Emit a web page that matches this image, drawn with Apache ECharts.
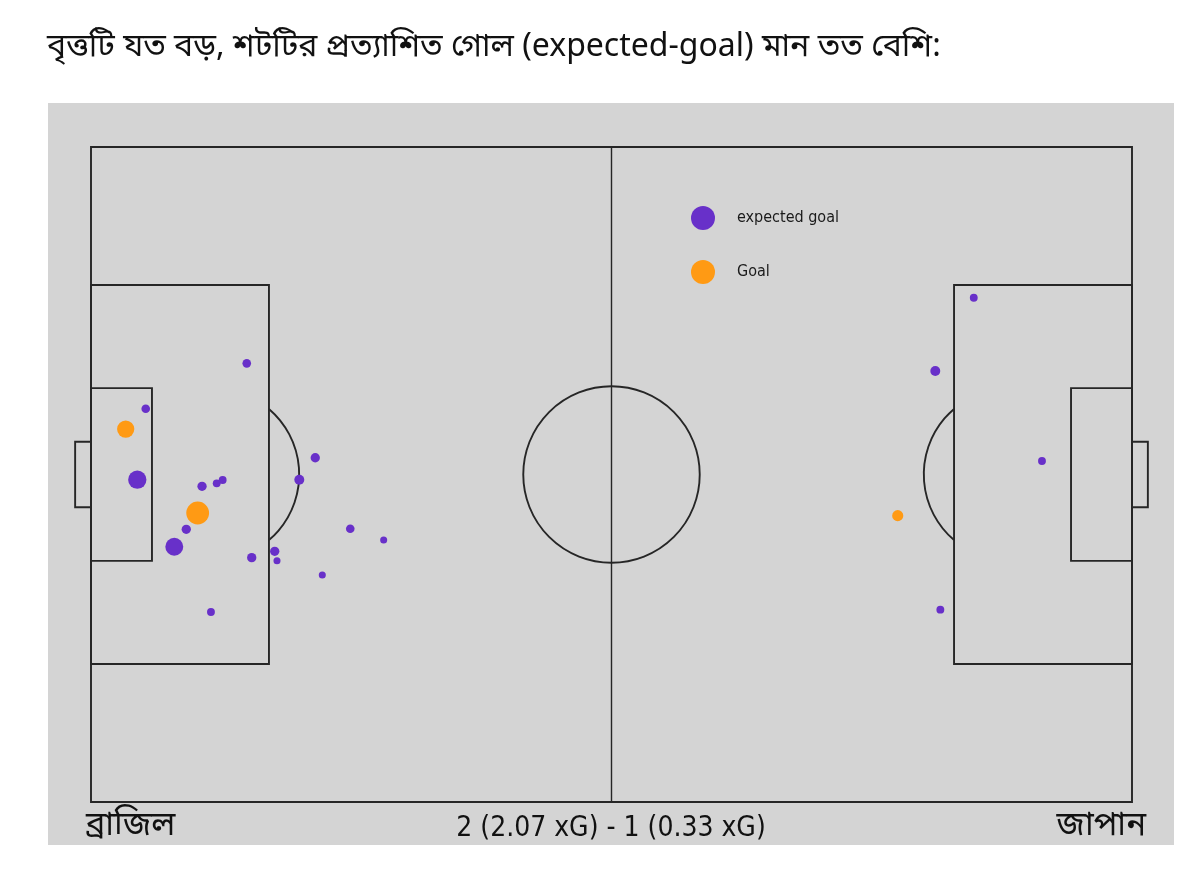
<!DOCTYPE html>
<html>
<head>
<meta charset="utf-8">
<title>xG shot map</title>
<script src="https://cdn.jsdelivr.net/npm/echarts@6/dist/echarts.min.js"></script>
<style>
  body { margin: 0; background: #fff; }
  #shotChart { width: 1200px; height: 879px; }
</style>
</head>
<body>
<div id="shotChart"></div>
<script>
// 数据：shot positions in pitch units (105 x 66, y from top), xG per shot, 1 = goal
var teams = ['ব্রাজিল', 'জাপান'];
var brazilX = [3.50, 4.67, 5.52, 8.40, 9.61, 10.76, 11.20, 12.68, 13.28, 12.10, 15.71, 16.21, 18.53, 18.76, 21.01, 22.62, 23.33, 26.15, 29.52];
var brazilY = [28.42, 33.52, 26.37, 40.28, 38.52, 36.88, 34.19, 33.89, 33.55, 46.86, 21.80, 41.38, 40.74, 41.69, 33.52, 31.31, 43.13, 38.46, 39.60];
var brazilXG = [0.24, 0.27, 0.06, 0.26, 0.07, 0.42, 0.07, 0.05, 0.05, 0.05, 0.06, 0.07, 0.07, 0.04, 0.08, 0.07, 0.04, 0.06, 0.04];
var brazilGoal = [1, 0, 0, 0, 0, 1, 0, 0, 0, 0, 0, 0, 0, 0, 0, 0, 0, 0, 0];
var japanX = [89.04, 85.16, 95.92, 81.37, 85.67];
var japanY = [15.19, 22.57, 31.64, 37.15, 46.62];
var japanXG = [0.05, 0.08, 0.05, 0.10, 0.05];
var japanGoal = [0, 0, 0, 1, 0];
var seriesNames = ['expected goal', 'Goal'];
var titleText = 'বৃত্তটি যত বড়, শটটির প্রত্যাশিত গোল (expected-goal) মান তত বেশি:';

// pitch markings (same units as the data)
var PITCH = {
	len: 105, wid: 66,
	boxDepth: 17.95, boxHalf: 19.1,
	sixDepth: 6.15, sixHalf: 8.7,
	goalDepth: 1.6, goalHalf: 3.3,
	spot: 12.3, arcR: 8.7, circleR: 8.9
};

var purple = '#6830c9';
var orange = '#ff9a14';
var lineColor = '#262626';
var bengaliFont = '"Noto Sans Bengali", "Noto Serif Bengali", "Lohit Bengali", "Liberation Sans Narrow", sans-serif';
var narrowFont = '"Liberation Sans Narrow", "DejaVu Sans Condensed", "Noto Sans", sans-serif';

function sum(arr) {
	return arr.reduce(function (a, b) { return a + b; }, 0);
}

function buildShots(xs, ys, xg, goal, wantGoal) {
	var out = [];
	for (var i = 0; i < xs.length; i++) {
		if (goal[i] === wantGoal) out.push([xs[i], ys[i], xg[i]]);
	}
	return out;
}

var xgData = buildShots(brazilX, brazilY, brazilXG, brazilGoal, 0)
	.concat(buildShots(japanX, japanY, japanXG, japanGoal, 0));
var goalData = buildShots(brazilX, brazilY, brazilXG, brazilGoal, 1)
	.concat(buildShots(japanX, japanY, japanXG, japanGoal, 1));

var scoreText = sum(brazilGoal) + ' (' + sum(brazilXG).toFixed(2) + ' xG) - ' +
	sum(japanGoal) + ' (' + sum(japanXG).toFixed(2) + ' xG)';

// circle area follows xG
function xgSize(val) {
	return 35.2 * Math.sqrt(val[2]);
}

function renderPitch(params, api) {
	var P = PITCH;
	var unit = api.size([1, 1]);
	var st = { fill: 'none', stroke: lineColor, lineWidth: 1.9 };
	var mid = P.wid / 2;
	function rect(x0, y0, x1, y1) {
		var a = api.coord([x0, y0]);
		var b = api.coord([x1, y1]);
		return {
			type: 'rect',
			shape: { x: Math.min(a[0], b[0]), y: Math.min(a[1], b[1]), width: Math.abs(b[0] - a[0]), height: Math.abs(b[1] - a[1]) },
			style: st
		};
	}
	var c = api.coord([P.len / 2, mid]);
	var top = api.coord([P.len / 2, 0]);
	var bottom = api.coord([P.len / 2, P.wid]);
	var lSpot = api.coord([P.spot, mid]);
	var rSpot = api.coord([P.len - P.spot, mid]);
	var th = Math.acos((P.boxDepth - P.spot) / P.arcR);
	return {
		type: 'group',
		children: [
			rect(0, 0, P.len, P.wid),
			{ type: 'line', shape: { x1: top[0], y1: top[1], x2: bottom[0], y2: bottom[1] }, style: { stroke: lineColor, lineWidth: 1.4 } },
			{ type: 'circle', shape: { cx: c[0], cy: c[1], r: P.circleR * unit[0] }, style: st },
			rect(0, mid - P.boxHalf, P.boxDepth, mid + P.boxHalf),
			rect(P.len - P.boxDepth, mid - P.boxHalf, P.len, mid + P.boxHalf),
			rect(0, mid - P.sixHalf, P.sixDepth, mid + P.sixHalf),
			rect(P.len - P.sixDepth, mid - P.sixHalf, P.len, mid + P.sixHalf),
			rect(-P.goalDepth, mid - P.goalHalf, 0, mid + P.goalHalf),
			rect(P.len, mid - P.goalHalf, P.len + P.goalDepth, mid + P.goalHalf),
			{ type: 'arc', shape: { cx: lSpot[0], cy: lSpot[1], r: P.arcR * unit[0], startAngle: -th, endAngle: th, clockwise: true }, style: st },
			{ type: 'arc', shape: { cx: rSpot[0], cy: rSpot[1], r: P.arcR * unit[0], startAngle: Math.PI - th, endAngle: Math.PI + th, clockwise: true }, style: st }
		]
	};
}

var shotChart = echarts.init(document.getElementById('shotChart'), null, { renderer: 'canvas' });
var shotOption = {
	backgroundColor: '#ffffff',
	animation: false,
	graphic: [
		{ type: 'rect', z: -10, shape: { x: 48, y: 103, width: 1126, height: 742 }, style: { fill: '#d4d4d4' } },
		{ type: 'text', x: 47, y: 50, style: { text: titleText, font: '32px ' + bengaliFont, fill: '#111', verticalAlign: 'middle' } },
		{ type: 'text', x: 86, y: 829, style: { text: teams[0], font: '33px ' + bengaliFont, fill: '#111', verticalAlign: 'middle' } },
		{ type: 'text', x: 611, y: 829, style: { text: scoreText, font: '28px ' + narrowFont, fill: '#111', align: 'center', verticalAlign: 'middle' } },
		{ type: 'text', x: 1146, y: 829, style: { text: teams[1], font: '33px ' + bengaliFont, fill: '#111', align: 'right', verticalAlign: 'middle' } }
	],
	grid: { left: 91, top: 147, width: 1041, height: 655 },
	xAxis: { type: 'value', min: 0, max: PITCH.len, show: false },
	yAxis: { type: 'value', min: 0, max: PITCH.wid, inverse: true, show: false },
	legend: {
		data: seriesNames,
		orient: 'vertical',
		left: 686,
		top: 201,
		itemWidth: 24,
		itemHeight: 24,
		itemGap: 30,
		icon: 'circle',
		textStyle: { fontFamily: narrowFont, fontSize: 16, fontWeight: 500, color: '#1a1a1a', padding: [0, 0, 0, 17] }
	},
	series: [{
		type: 'custom',
		silent: true,
		clip: false,
		renderItem: renderPitch,
		data: [[0, 0]],
		z: 1
	}, {
		name: seriesNames[0],
		type: 'scatter',
		data: xgData,
		symbolSize: xgSize,
		itemStyle: { color: purple, opacity: 1 },
		z: 3
	}, {
		name: seriesNames[1],
		type: 'scatter',
		data: goalData,
		symbolSize: xgSize,
		itemStyle: { color: orange, opacity: 1 },
		z: 4
	}]
};
shotChart.setOption(shotOption);
</script>
</body>
</html>
